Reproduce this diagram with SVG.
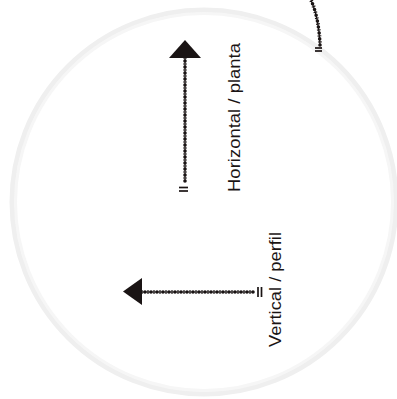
<svg xmlns="http://www.w3.org/2000/svg" width="397" height="399" viewBox="0 0 397 399">
<defs>
<style>
.ring{fill:none;stroke:#efefef;stroke-width:5}
.ring2{fill:none;stroke:#f6f6f6;stroke-width:3}
.ln{fill:none;stroke:#1a1414;stroke-width:1.2}
.dots{fill:none;stroke:#1a1414;stroke-width:3.6;stroke-linecap:round;stroke-dasharray:0 6}
.bars{fill:none;stroke:#1a1414;stroke-width:3.8;stroke-dasharray:1.2 4.8;stroke-dashoffset:-2.4}
.end{fill:none;stroke:#1a1414;stroke-width:1.7}
.head{fill:#1a1414}
.lbl{font-family:"Liberation Sans",Arial,sans-serif;font-size:16.8px;fill:#1a1414}
</style>
</defs>
<rect width="397" height="399" fill="#ffffff"/>
<g id="ring"><circle class="ring" cx="204" cy="202" r="192"/><circle class="ring2" cx="204" cy="202" r="188.5"/></g>
<g id="connectors">
<g id="arrow-horizontal">
<line class="ln" x1="185" y1="58" x2="185" y2="182"/>
<line class="dots" x1="185" y1="181" x2="185" y2="58"/>
<line class="bars" x1="185" y1="181" x2="185" y2="58"/>
<line class="end" x1="179" y1="187.5" x2="188" y2="187.5"/>
<line class="end" x1="179" y1="191" x2="188" y2="191"/>
<polygon class="head" points="185,40 201,58 169,58"/>
</g>
<g id="arrow-vertical">
<line class="ln" x1="142" y1="292" x2="254" y2="292"/>
<line class="dots" x1="253" y1="292" x2="142" y2="292"/>
<line class="bars" x1="253" y1="292" x2="142" y2="292"/>
<line class="end" x1="258" y1="287" x2="258" y2="297"/>
<line class="end" x1="261.5" y1="287" x2="261.5" y2="297"/>
<polygon class="head" points="123,291.5 142,278 142,305"/>
</g>
<g id="arrow-partial">
<path class="ln" d="M320,45 Q319,18 311,0"/>
<path class="dots" d="M320,45 Q319,18 311,0"/>
<path class="bars" d="M320,45 Q319,18 311,0"/>
<line class="end" x1="315" y1="48" x2="322" y2="48"/>
<line class="end" x1="315" y1="51" x2="322" y2="51"/>
</g>
</g>
<g id="label-horizontal"><text class="lbl" transform="translate(240,192) rotate(-90)" textLength="149" lengthAdjust="spacingAndGlyphs">Horizontal / planta</text></g>
<g id="label-vertical"><text class="lbl" transform="translate(281,347) rotate(-90)" textLength="115" lengthAdjust="spacingAndGlyphs">Vertical / perfil</text></g>
</svg>
